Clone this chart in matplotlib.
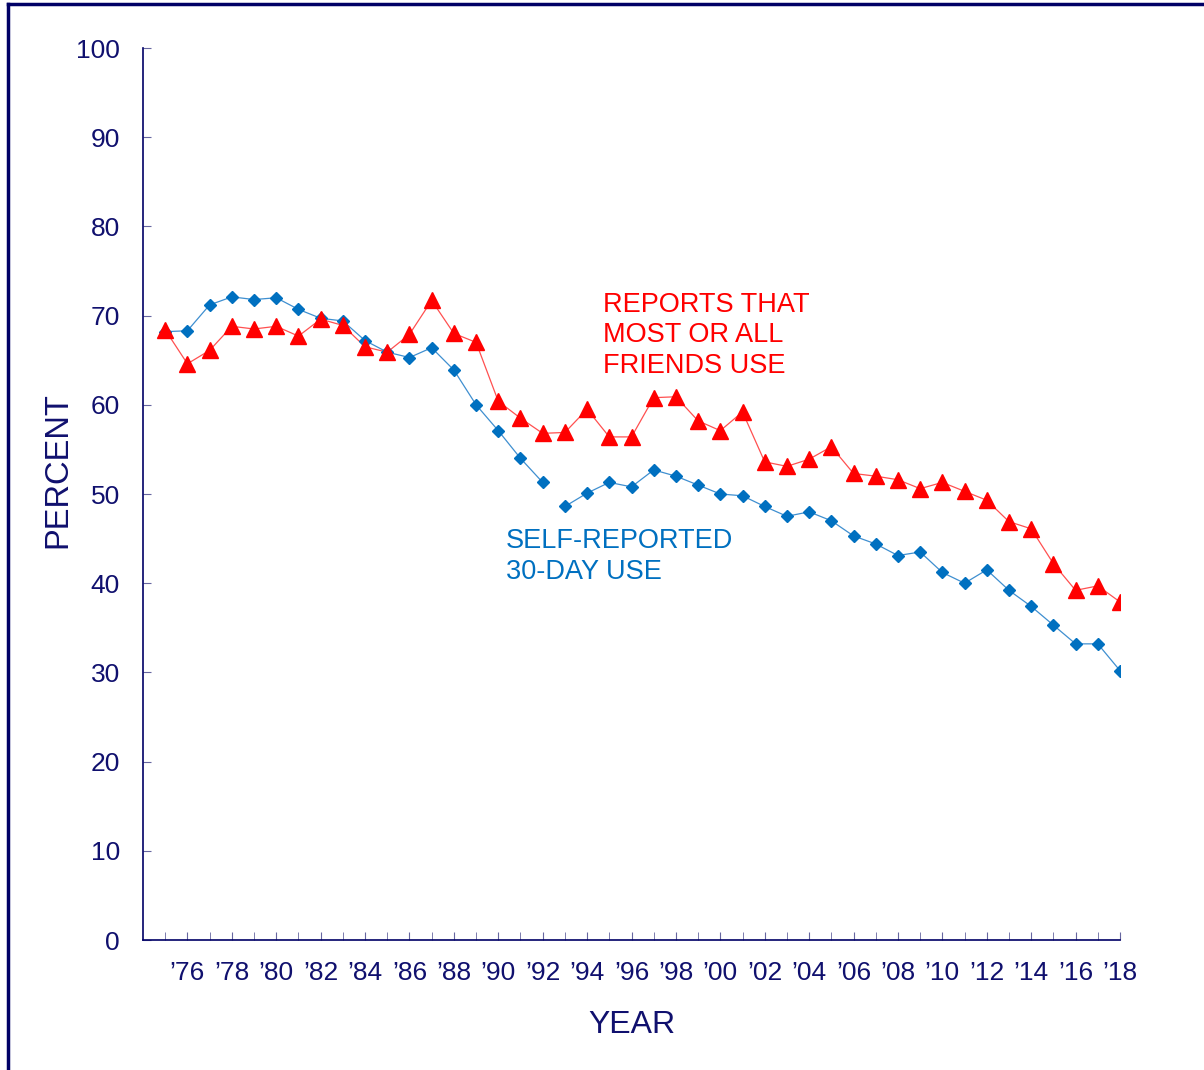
import numpy as np
import matplotlib
matplotlib.use("Agg")
import matplotlib.pyplot as plt
from matplotlib.lines import Line2D

# data
years = list(range(1975, 2019))

self_30day = [68.2, 68.3, 71.2, 72.1, 71.8, 72.0, 70.7, 69.7, 69.4, 67.2,
              65.9, 65.3, 66.4, 63.9, 60.0, 57.1, 54.0, 51.3, 48.6, 50.1,
              51.3, 50.8, 52.7, 52.0, 51.0, 50.0, 49.8, 48.6, 47.5, 48.0,
              47.0, 45.3, 44.4, 43.1, 43.5, 41.2, 40.0, 41.5, 39.2, 37.4,
              35.3, 33.2, 33.2, 30.2]

friends_use = [68.4, 64.6, 66.1, 68.8, 68.5, 68.8, 67.7, 69.6, 68.9, 66.5,
               65.9, 67.9, 71.7, 68.0, 67.0, 60.4, 58.5, 56.8, 56.9, 59.5,
               56.4, 56.4, 60.8, 60.9, 58.2, 57.1, 59.2, 53.6, 53.1, 53.9,
               55.3, 52.3, 52.0, 51.6, 50.6, 51.3, 50.3, 49.3, 46.9, 46.1,
               42.2, 39.2, 39.7, 37.9]

label_years = list(range(1976, 2019, 2))
label_text = ["\u2019%02d" % (y % 100) for y in label_years]
y_ticks = list(range(0, 101, 10))

NAVY = "#000066"
TEXT = "#10106e"
RED = "#ff0000"
BLUE = "#0070c0"

plt.rcParams['font.family'] = ['Liberation Sans', 'DejaVu Sans']

W, H = 1204, 1070
fig = plt.figure(figsize=(W / 100, H / 100), dpi=100)
ax = fig.add_axes([143 / W, (H - 940) / H, (1120 - 143) / W, (940 - 48) / H])

# blue series has a break between 1992 and 1993
yrs = np.array(years, dtype=float)
blue = np.array(self_30day, dtype=float)
brk = years.index(1993)
for sl in (slice(0, brk), slice(brk, None)):
    ax.plot(yrs[sl], blue[sl], color="#3f8fd0", lw=0.9, zorder=2)
ax.plot(yrs, blue, ls="none", marker="D", ms=6.2, color=BLUE,
        mec=BLUE, zorder=3)

ax.plot(yrs, friends_use, color="#ff5050", lw=0.9, zorder=2)
ax.plot(yrs, friends_use, ls="none", marker="^", ms=11, color=RED,
        mec=RED, zorder=4)

ax.set_xlim(1974, 2018)
ax.set_ylim(0, 100)

ax.set_xticks(label_years)
ax.set_xticklabels(label_text)
ax.set_xticks([y for y in years if y not in label_years], minor=True)
ax.set_yticks(y_ticks)

ax.tick_params(axis="both", which="both", direction="in", colors=NAVY,
               labelcolor=TEXT, labelsize=19)
ax.tick_params(axis="x", which="both", length=5.5, color="#6666a0", pad=15)
ax.tick_params(axis="y", length=6, color="#6666a0", pad=16.5)

for s in ("top", "right"):
    ax.spines[s].set_visible(False)
for s in ("left", "bottom"):
    ax.spines[s].set_color(NAVY)
    ax.spines[s].set_linewidth(1.2)

ax.set_ylabel("PERCENT", fontsize=23.5, color=TEXT, va="center")
ax.yaxis.set_label_coords(-0.087, 0.527)
ax.set_xlabel("YEAR", fontsize=23, color=TEXT, labelpad=18)

ax.text(1994.72, 67.8, "REPORTS THAT\nMOST OR ALL\nFRIENDS USE",
        color=RED, fontsize=19.5, ha="left", va="center", linespacing=1.22)
ax.text(1990.35, 43.0, "SELF-REPORTED\n30-DAY USE",
        color=BLUE, fontsize=19.5, ha="left", va="center", linespacing=1.25)

# frame around the figure (top and left show, rest cut off)
fig.add_artist(Line2D([8 / W, 8 / W], [0, 1 - 4 / H], color=NAVY, lw=2.5,
                      transform=fig.transFigure))
fig.add_artist(Line2D([8 / W, 1], [1 - 4 / H, 1 - 4 / H], color=NAVY, lw=2.5,
                      transform=fig.transFigure))

fig.savefig("out.png", dpi=100)
